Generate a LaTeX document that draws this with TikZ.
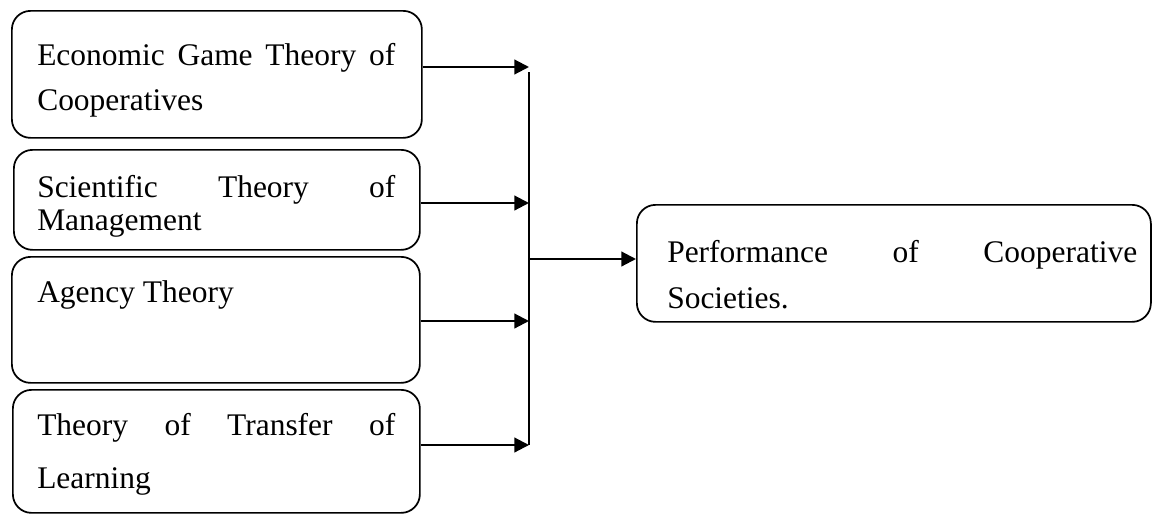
\documentclass[tikz,border=0pt]{standalone}
\usepackage{fontspec}
\setmainfont{Liberation Serif}
\usetikzlibrary{positioning, arrows.meta}

\tikzset{
  theory/.style={draw, rounded corners=14pt, line width=1.3pt, anchor=north west, inner sep=0pt},
  txt/.style={anchor=base west, inner sep=0pt, font=\fontsize{23.6}{28}\selectfont},
  flow/.style={-{Triangle[length=11pt,width=11pt]}, line width=1.6pt},
}

% justified first lines
\newcommand{\spread}[2]{\makebox[#1][s]{#2}}

\begin{document}
\begin{tikzpicture}[x=0.75pt, y=-0.75pt]
    \useasboundingbox (0,0) rectangle (1152,514);

    % Theory boxes
    \node[theory, minimum width=307.5pt, minimum height=95.25pt] (econ) at (11,10) {};
    \node[theory, minimum width=304.5pt, minimum height=75pt] (sci) at (13,149) {};
    \node[theory, minimum width=306pt, minimum height=94.5pt] (agency) at (11,256) {};
    \node[theory, minimum width=305.25pt, minimum height=92.25pt] (transfer) at (12,389) {};

    % Outcome box
    \node[theory, minimum width=385.5pt, minimum height=87.75pt] (perf) at (636,204) {};

    % Box texts
    \node[txt] (econ-a) at (37,65) {\spread{268.5pt}{Economic Game Theory of}};
    \node[txt] (econ-b) at (37,110) {Cooperatives};
    \node[txt] (sci-a) at (37,197) {\spread{268.5pt}{Scientific Theory of}};
    \node[txt] (sci-b) at (37,230) {Management};
    \node[txt] (agency-a) at (37,302) {Agency Theory};
    \node[txt] (transfer-a) at (37,435) {\spread{268.5pt}{Theory of Transfer of}};
    \node[txt] (transfer-b) at (37,488) {Learning};
    \node[txt] (perf-a) at (667,262) {\spread{352.5pt}{Performance of Cooperative}};
    \node[txt] (perf-b) at (667,308) {Societies.};

    % Joining line
    \coordinate (j1) at (529,67);
    \coordinate (j2) at (529,203);
    \coordinate (j3) at (529,321);
    \coordinate (j4) at (529,445);
    \coordinate (jtop) at (529,72);
    \coordinate (jout) at (529,259);
    \draw[line width=1.6pt] (jtop) -- (j4);

    % Connections: theories to joining line
    \draw[flow] (econ.east |- j1) -- (j1);
    \draw[flow] (sci.east |- j2) -- (j2);
    \draw[flow] (agency.east |- j3) -- (j3);
    \draw[flow] (transfer.east |- j4) -- (j4);

    % Connection: joining line to performance
    \draw[flow] (jout) -- (perf.west |- jout);

\end{tikzpicture}
\end{document}
